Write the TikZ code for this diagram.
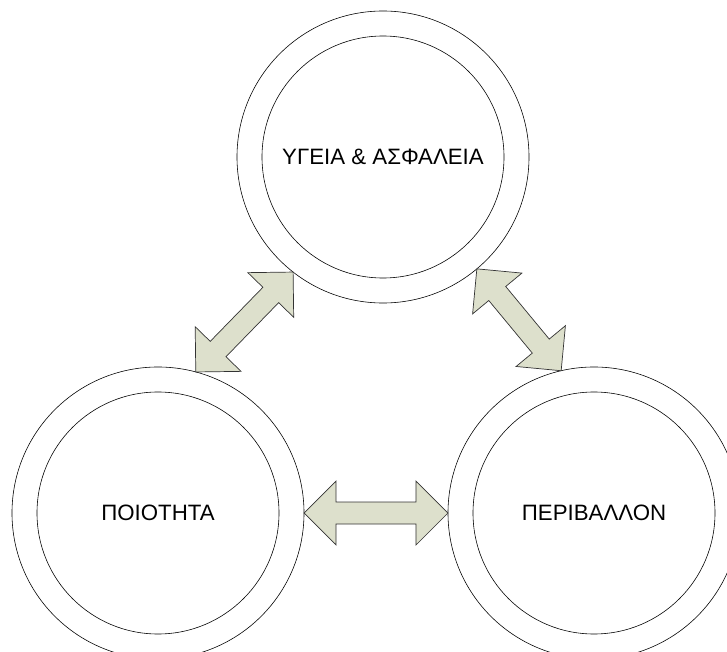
\documentclass[tikz,border=0pt]{standalone}
\usepackage{fontspec}
\setmainfont{Liberation Sans}
\usetikzlibrary{calc}
\tikzset{>=stealth}
\definecolor{arrowfill}{RGB}{221,224,204}
\tikzset{
  ring/.style={circle,draw,line width=0.5pt,minimum size=8.76cm,inner sep=0pt,outer sep=0pt},
  inring/.style={circle,draw,line width=0.5pt,minimum size=7.26cm,inner sep=0pt,outer sep=0pt,font=\fontsize{19}{21}\selectfont},
  link/.style={draw=black!80,fill=arrowfill,line width=0.6pt,line join=miter}
}
\newcommand{\headlen}{0.96cm}
\newcommand{\headwid}{0.96cm}
\newcommand{\shaftwid}{0.33cm}
% block arrow with a head at both ends
\newcommand{\twoway}[2]{%
  \path (#1) coordinate (tA) (#2) coordinate (tB);
  \path ($(tA)!\headlen!(tB)$) coordinate (hA) ($(tB)!\headlen!(tA)$) coordinate (hB);
  \draw[link] (tA) -- ($(hA)!\headwid!90:(tB)$) -- ($(hA)!\shaftwid!90:(tB)$)
    -- ($(hB)!\shaftwid!-90:(tA)$) -- ($(hB)!\headwid!-90:(tA)$) -- (tB)
    -- ($(hB)!\headwid!90:(tA)$) -- ($(hB)!\shaftwid!90:(tA)$)
    -- ($(hA)!\shaftwid!-90:(tB)$) -- ($(hA)!\headwid!-90:(tB)$) -- cycle;
}

\begin{document}
\begin{tikzpicture}[x=0.03cm,y=-0.03cm]
      \useasboundingbox (0,0) rectangle (727,652);
      \clip (0,0) rectangle (727,652);
      \node[ring] (hs) at (383,157) {};
      \node[inring] (hsin) at (hs) {ΥΓΕΙΑ \& ΑΣΦΑΛΕΙΑ};
      \node[ring] (q) at (158,513) {};
      \node[inring] (qin) at (q) {ΠΟΙΟΤΗΤΑ};
      \node[ring] (env) at (594,513) {};
      \node[inring] (envin) at (env) {ΠΕΡΙΒΑΛΛΟΝ};
      \twoway{hs.232}{q.75}
      \twoway{hs.310}{env.103}
      \twoway{q.0}{env.180}
    \end{tikzpicture}
\end{document}
